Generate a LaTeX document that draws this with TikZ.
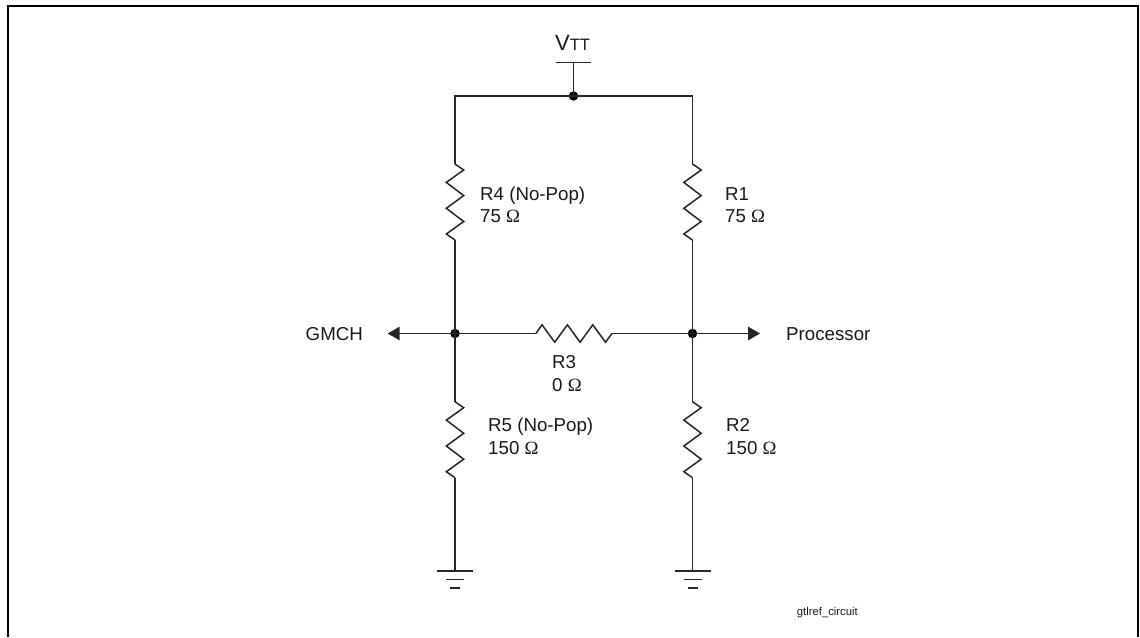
\documentclass[tikz,border=0pt]{standalone}
\usepackage{fontspec}
\setmainfont{Liberation Sans}
\newfontfamily\symfont{Liberation Serif}
\usetikzlibrary{arrows.meta}
\newcommand{\ohm}{{\symfont\char"03A9}}
\newcommand{\vzig}[2]{\draw[wire] (#1) -- ++(8.7,6) -- ++(-17.4,12.4) -- ++(17.4,13.2) -- ++(-17.4,12.7) -- ++(17.4,13.2) -- ++(-17.4,12.5) -- (#2);}
\tikzset{
 wire/.style={line width=1.5pt,color=black!85,line join=miter},
 frameline/.style={line width=2.4pt,color=black},
 dotnode/.style={circle,fill=black,inner sep=0pt,minimum size=9.5pt},
 lab/.style={anchor=base west,inner sep=0pt,font=\fontsize{18.7pt}{20pt}\selectfont,text=black!90},
 smalllab/.style={anchor=base west,inner sep=0pt,font=\fontsize{11.3pt}{12pt}\selectfont,text=black!90},
 arrowtip/.style={-{Triangle[length=12pt,width=13.5pt]}}
}
\begin{document}
\begin{tikzpicture}[x=1pt,y=-1pt]
\useasboundingbox (0,0) rectangle (1140,637);
\fill[white] (0,0) rectangle (1140,637);
% frame
\coordinate (fa) at (8,637);
\coordinate (fb) at (8,6);
\coordinate (fc) at (1138,6);
\coordinate (fd) at (1138,637);
\draw[frameline] (fa) -- (fb) -- (fc) -- (fd);
% junctions
\node[dotnode] (top) at (573.5,96) {};
\node[dotnode] (jl) at (455,333.5) {};
\node[dotnode] (jr) at (692.5,333.5) {};
% corners and resistor ends
\coordinate (cl) at (455,96);
\coordinate (cr) at (692.5,96);
\coordinate (r4t) at (455,164);   \coordinate (r4b) at (455,240);
\coordinate (r1t) at (692.5,164); \coordinate (r1b) at (692.5,240);
\coordinate (r5t) at (455,401.7); \coordinate (r5b) at (455,477.7);
\coordinate (r2t) at (692.5,401.7); \coordinate (r2b) at (692.5,477.7);
\coordinate (r3l) at (536,333.5); \coordinate (r3r) at (612,333.5);
% supply
\coordinate (vtt) at (573.5,62.3);
\coordinate (vttl) at (556,62.3);
\coordinate (vttr) at (591,62.3);
\draw[wire] (vttl) -- (vttr);
\draw[wire] (vtt) -- (top.center);
\draw[wire] (r4t) -- (cl) -- (top.center) -- (cr) -- (r1t);
\node[anchor=base west,inner sep=0pt,text=black!90] (vlabel) at (555,50) {\fontsize{22pt}{24pt}\selectfont V\fontsize{16.5pt}{18pt}\selectfont TT};
% resistors
\vzig{r4t}{r4b}
\vzig{r1t}{r1b}
\vzig{r5t}{r5b}
\vzig{r2t}{r2b}
\draw[wire] (r3l) -- ++(6,-8.7) -- ++(12.7,17.4) -- ++(12.7,-17.4) -- ++(12.7,17.4) -- ++(12.7,-17.4) -- ++(12.7,17.4) -- (r3r);
% wires
\draw[wire] (r4b) -- (jl.center) -- (r5t);
\draw[wire] (r1b) -- (jr.center) -- (r2t);
\draw[wire] (jl.center) -- (r3l);
\draw[wire] (r3r) -- (jr.center);
\coordinate (al) at (387.7,333.5);
\coordinate (ar) at (760,333.5);
\draw[wire,arrowtip] (jl.center) -- (al);
\draw[wire,arrowtip] (jr.center) -- (ar);
% grounds
\foreach \n/\x in {gl/455,gr/692.5}{
  \coordinate (\n) at (\x,571);
  \draw[wire] (\n) -- ++(-18,0) (\n) -- ++(18,0);
  \draw[wire] (\x-9,579.3) -- (\x+9,579.3);
  \draw[wire] (\x-5,588) -- (\x+5,588);
}
\draw[wire] (r5b) -- (gl);
\draw[wire] (r2b) -- (gr);
% labels
\node[lab] (lr4) at (480,200) {R4 (No-Pop)};
\node[lab] (lr4v) at (480,222) {75 \ohm};
\node[lab] (lr1) at (725,200) {R1};
\node[lab] (lr1v) at (725,222) {75 \ohm};
\node[lab] (lr5) at (488,431) {R5 (No-Pop)};
\node[lab] (lr5v) at (488,454) {150 \ohm};
\node[lab] (lr2) at (726,431) {R2};
\node[lab] (lr2v) at (726,454) {150 \ohm};
\node[lab] (lr3) at (552,368) {R3};
\node[lab] (lr3v) at (552,391) {0 \ohm};
\node[lab] (gmch) at (305.5,340.7) {GMCH};
\node[lab] (proc) at (786,340.7) {Processor};
\node[smalllab] (fig) at (796.7,615.7) {gtlref\_circuit};
\end{tikzpicture}
\end{document}
